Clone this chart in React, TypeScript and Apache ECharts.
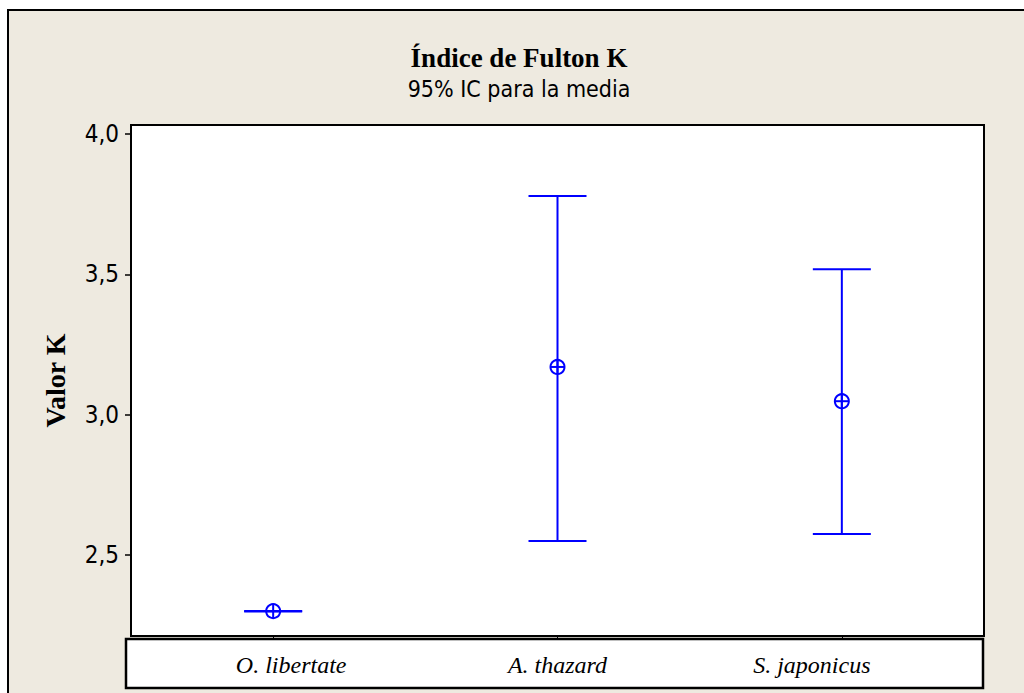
import React, { useEffect, useRef } from "react";
import * as echarts from "echarts";

const categories = ["O. libertate", "A. thazard", "S. japonicus"];
const lowerCI = [2.299, 2.55, 2.575];
const means = [2.3, 3.17, 3.048];
const upperCI = [2.301, 3.779, 3.518];
const yTicks = [2.5, 3.0, 3.5, 4.0];

const titleText = "Índice de Fulton K";
const subtitleText = "95% IC para la media";
const yName = "Valor K";

const BLUE = "#0000FF";
const BEIGE = "#EEEAE0";
const SANS = "'DejaVu Sans Condensed', 'DejaVu Sans', Verdana, sans-serif";
const SERIF = "'Liberation Serif', 'Times New Roman', serif";

export default function App() {
  const ref = useRef<HTMLDivElement>(null);
  useEffect(() => {
    if (!ref.current) return;
    const chart = echarts.init(ref.current, undefined, { renderer: "svg" });
    const data = categories.map((c, i) => [i, lowerCI[i], means[i], upperCI[i]]);
    const labelRich = {
      a: { padding: [0, 0, 0, 36], fontFamily: SERIF, fontStyle: "italic", fontSize: 24, color: "#000" },
      b: { padding: [0, 0, 0, 0], fontFamily: SERIF, fontStyle: "italic", fontSize: 24, color: "#000" },
      c: { padding: [0, 60, 0, 0], fontFamily: SERIF, fontStyle: "italic", fontSize: 24, color: "#000" },
    };
    chart.setOption({
      animation: false,
      backgroundColor: "#ffffff",
      graphic: [
        {
          type: "rect",
          z: -10,
          shape: { x: 8, y: 10, width: 1040, height: 720 },
          style: { fill: BEIGE, stroke: "#000", lineWidth: 2 },
        },
        {
          type: "rect",
          z: 1,
          shape: { x: 126, y: 639, width: 857, height: 49 },
          style: { fill: "#fff", stroke: "#000", lineWidth: 2.5 },
        },
        {
          type: "text",
          z: 5,
          x: 519,
          y: 58,
          style: {
            text: titleText,
            font: `bold 27px ${SERIF}`,
            fill: "#000",
            align: "center",
            verticalAlign: "middle",
          },
        },
        {
          type: "text",
          z: 5,
          x: 519,
          y: 89,
          style: {
            text: subtitleText,
            font: `23px ${SANS}`,
            fill: "#000",
            align: "center",
            verticalAlign: "middle",
          },
        },
      ],
      grid: {
        left: 131,
        top: 125,
        right: 40,
        bottom: 57,
        show: true,
        backgroundColor: "#ffffff",
        borderColor: "#000",
        borderWidth: 2,
        z: 0,
      },
      xAxis: {
        type: "category",
        data: categories,
        boundaryGap: true,
        z: 3,
        axisLine: { show: false },
        axisTick: {
          show: true,
          alignWithLabel: true,
          length: 3,
          lineStyle: { color: "#000", width: 1 },
        },
        axisLabel: {
          margin: 29,
          verticalAlign: "middle",
          fontFamily: SERIF,
          fontStyle: "italic",
          fontSize: 24,
          color: "#000",
          formatter: (v: string, i: number) => `{${["a", "b", "c"][i]}|${v}}`,
          rich: labelRich,
        },
        splitLine: { show: false },
      },
      yAxis: {
        type: "value",
        min: 2.2115,
        max: 4.032,
        name: yName,
        nameLocation: "middle",
        nameRotate: 90,
        nameGap: 62,
        nameTextStyle: {
          fontFamily: SERIF,
          fontWeight: "bold",
          fontSize: 28,
          color: "#000",
        },
        axisLine: { show: true, lineStyle: { color: "#000", width: 2 } },
        axisTick: {
          show: true,
          length: 6,
          customValues: yTicks,
          lineStyle: { color: "#000", width: 1.5 },
        },
        axisLabel: {
          customValues: yTicks,
          margin: 12,
          fontFamily: SANS,
          fontSize: 24,
          color: "#000",
          formatter: (v: number) => v.toFixed(1).replace(".", ","),
        },
        splitLine: { show: false },
      },
      series: [
        {
          type: "custom",
          data,
          z: 5,
          clip: false,
          renderItem: (params: any, api: any) => {
            const idx = api.value(0);
            const lo = api.coord([idx, api.value(1)]);
            const mid = api.coord([idx, api.value(2)]);
            const hi = api.coord([idx, api.value(3)]);
            const x = lo[0];
            const capHalf = 29;
            const r = 7;
            const ls = { stroke: BLUE, lineWidth: 2 };
            return {
              type: "group",
              children: [
                { type: "line", shape: { x1: x, y1: lo[1], x2: x, y2: hi[1] }, style: ls },
                { type: "line", shape: { x1: x - capHalf, y1: lo[1], x2: x + capHalf, y2: lo[1] }, style: ls },
                { type: "line", shape: { x1: x - capHalf, y1: hi[1], x2: x + capHalf, y2: hi[1] }, style: ls },
                { type: "circle", shape: { cx: x, cy: mid[1], r }, style: { stroke: BLUE, lineWidth: 2, fill: "none" } },
                { type: "line", shape: { x1: x - r, y1: mid[1], x2: x + r, y2: mid[1] }, style: ls },
                { type: "line", shape: { x1: x, y1: mid[1] - r, x2: x, y2: mid[1] + r }, style: ls },
              ],
            };
          },
        },
      ],
    });
    return () => chart.dispose();
  }, []);
  return (
    <div
      ref={ref}
      style={{ position: "absolute", left: 0, top: 0, width: 1024, height: 693 }}
    />
  );
}
